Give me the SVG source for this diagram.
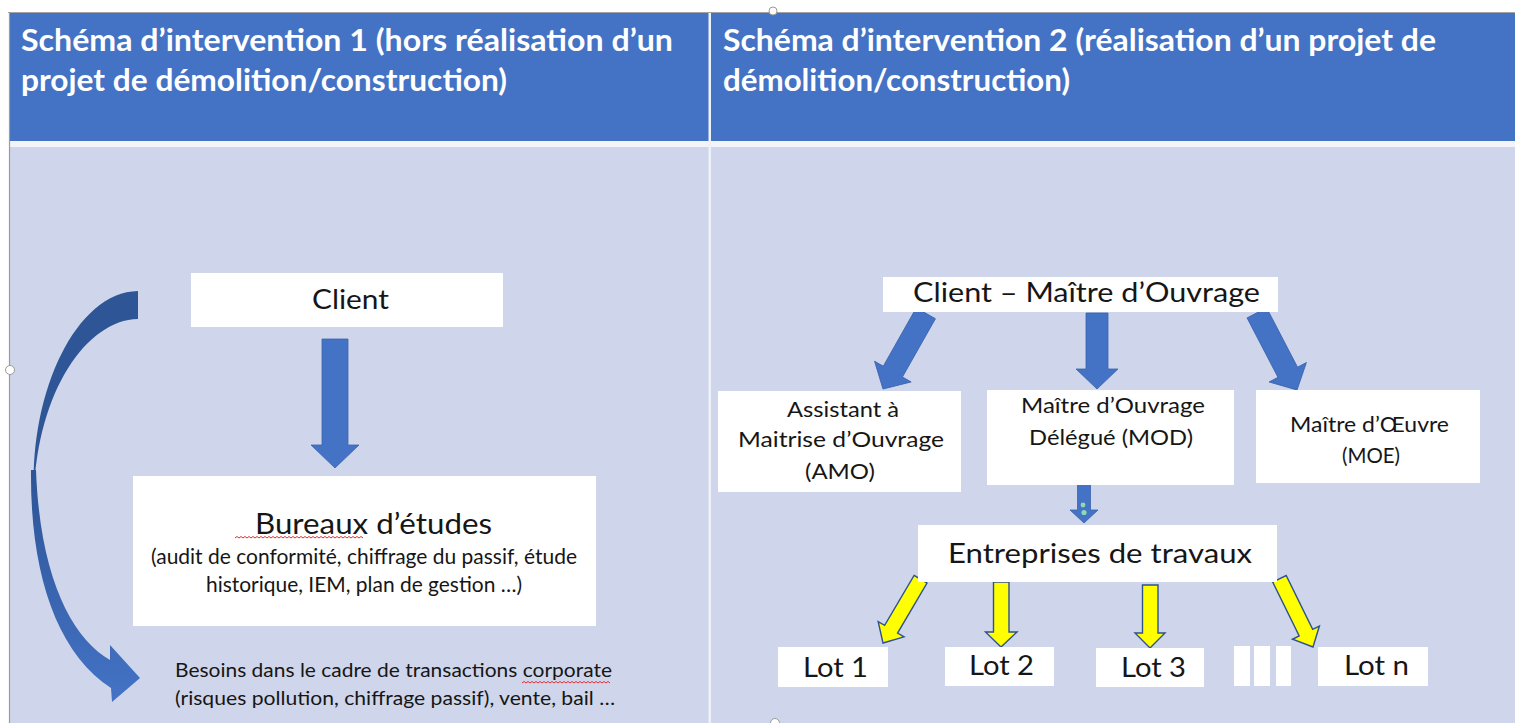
<svg xmlns="http://www.w3.org/2000/svg" width="1515" height="723" viewBox="0 0 1515 723">
  <style>
    .hdr { fill: #4472C4; }
    .body { fill: #CFD5EA; }
    .box { fill: #FFFFFF; }
    .htxt { font-family: Lato, "Open Sans", sans-serif; font-weight: bold; font-size: 31px; fill: #FFFFFF; }
    .txt { font-family: Lato, "Open Sans", sans-serif; fill: #161616; }
    .blue { fill: #4472C4; stroke: #3A64B0; stroke-width: 0.8; }
    .yellow { fill: #FFFF00; stroke: #2F528F; stroke-width: 1.4; stroke-linejoin: miter; }
    .squiggle { fill: none; stroke: #E03030; stroke-width: 1; }
    .handle { fill: #FFFFFF; stroke: #9A9A9A; stroke-width: 1; }
  </style>
  <defs>
    <linearGradient id="curveGrad" x1="0" y1="0" x2="0" y2="1">
      <stop offset="0" stop-color="#2D5495"/>
      <stop offset="1" stop-color="#4473C6"/>
    </linearGradient>
    <!-- block arrows drawn pointing down with the tip at the origin -->
    <path id="arrowBig" d="M -11,-87 H 11 V -20 H 21 L 0,0 L -21,-20 H -11 Z"/>
    <path id="arrowSmallA" d="M -7.5,-74 H 7.5 V -16 H 15 L 0,0 L -15,-16 H -7.5 Z"/>
    <path id="arrowSmallB" d="M -7.5,-76 H 7.5 V -16 H 15 L 0,0 L -15,-16 H -7.5 Z"/>
  </defs>

  <!-- page and table frame -->
  <rect x="0" y="0" width="1515" height="723" fill="#FFFFFF"/>
  <rect class="hdr" x="10" y="13" width="1505" height="128"/>
  <rect x="10" y="141" width="1505" height="6" fill="#F2F4FA"/>
  <rect class="body" x="10" y="147" width="1505" height="576"/>
  <rect x="708.5" y="13" width="2.5" height="710" fill="#EEF1F8"/>
  <line x1="8" y1="12.5" x2="1515" y2="12.5" stroke="#A3A3A3" stroke-width="1.2"/>
  <line x1="9.5" y1="12" x2="9.5" y2="723" stroke="#9C9C9C" stroke-width="1.2"/>
  <circle class="handle" cx="773" cy="11" r="4"/>
  <circle class="handle" cx="10" cy="370" r="4.5"/>
  <circle class="handle" cx="775" cy="723" r="4.5"/>

  <!-- column headers -->
  <g id="header-1">
    <text class="htxt" x="21" y="51" textLength="652" lengthAdjust="spacingAndGlyphs">Schéma d’intervention 1 (hors réalisation d’un</text>
    <text class="htxt" x="21" y="91" textLength="486" lengthAdjust="spacingAndGlyphs">projet de démolition/construction)</text>
  </g>
  <g id="header-2">
    <text class="htxt" x="723" y="51" textLength="713" lengthAdjust="spacingAndGlyphs">Schéma d’intervention 2 (réalisation d’un projet de</text>
    <text class="htxt" x="723" y="91" textLength="347" lengthAdjust="spacingAndGlyphs">démolition/construction)</text>
  </g>

  <!-- connectors -->
  <g id="connectors">
    <!-- curved arrow: back face then front face -->
    <path d="M 138,291 L 138,319 C 86,320 38,392 34,492 C 30,392 76,292 138,291 Z" fill="#2E5596"/>
    <path d="M 31,470 C 30,572 56,652 111,688 L 112,702 L 140,678 L 110,645 L 110,660 C 72,638 40,578 36,470 Z" fill="url(#curveGrad)"/>

    <path class="blue" d="M 322,339 H 348 V 445 H 359 L 335,468 L 311,445 H 322 Z"/>

    <use href="#arrowBig" class="blue" transform="translate(883,389) rotate(29.5)"/>
    <path class="blue" d="M 1086,313 H 1108 V 369 H 1118 L 1097,389 L 1076,369 H 1086 Z"/>
    <use href="#arrowBig" class="blue" transform="translate(1297,390) rotate(-27.5)"/>

    <path class="blue" d="M 1077.5,484 H 1090.5 V 510 H 1098 L 1084,523 L 1070,510 H 1077.5 Z"/>
    <circle cx="1083" cy="505" r="2.4" fill="#8FD8B2"/>
    <circle cx="1084" cy="512.5" r="2.6" fill="#8FD8B2"/>

    <use href="#arrowSmallA" class="yellow" transform="translate(883,643) rotate(30.5)"/>
    <path class="yellow" d="M 993.5,582 H 1009 V 632 H 1017 L 1001,647 L 985.5,632 H 993.5 Z"/>
    <path class="yellow" d="M 1142.5,585 H 1158 V 633 H 1165 L 1150,648 L 1135,633 H 1142.5 Z"/>
    <use href="#arrowSmallB" class="yellow" transform="translate(1313,647) rotate(-26.2)"/>
  </g>

  <!-- left scheme -->
  <g id="client">
    <rect class="box" x="191" y="273" width="312" height="54"/>
    <text class="txt" x="312" y="309" font-size="26" textLength="77" lengthAdjust="spacingAndGlyphs">Client</text>
  </g>
  <g id="bureaux-etudes">
    <rect class="box" x="133" y="476" width="463" height="150"/>
    <text class="txt" x="255" y="534" font-size="28" textLength="237" lengthAdjust="spacingAndGlyphs">Bureaux d’études</text>
    <path class="squiggle" d="M 235,538 l 2,-1.5 l 2,1.5 l 2,-1.5 l 2,1.5 l 2,-1.5 l 2,1.5 l 2,-1.5 l 2,1.5 l 2,-1.5 l 2,1.5 l 2,-1.5 l 2,1.5 l 2,-1.5 l 2,1.5 l 2,-1.5 l 2,1.5 l 2,-1.5 l 2,1.5 l 2,-1.5 l 2,1.5 l 2,-1.5 l 2,1.5 l 2,-1.5 l 2,1.5 l 2,-1.5 l 2,1.5 l 2,-1.5 l 2,1.5 l 2,-1.5 l 2,1.5 l 2,-1.5 l 2,1.5 l 2,-1.5 l 2,1.5 l 2,-1.5 l 2,1.5 l 2,-1.5 l 2,1.5 l 2,-1.5 l 2,1.5 l 2,-1.5 l 2,1.5 l 2,-1.5 l 2,1.5 l 2,-1.5 l 2,1.5 l 2,-1.5 l 2,1.5 l 2,-1.5 l 2,1.5 l 2,-1.5 l 2,1.5 l 2,-1.5 l 2,1.5 l 2,-1.5 l 2,1.5 l 2,-1.5 l 2,1.5 l 2,-1.5 l 2,1.5 l 2,-1.5 l 2,1.5 l 2,-1.5 l 2,1.5"/>
    <text class="txt" x="151" y="564" font-size="20.5" textLength="426" lengthAdjust="spacingAndGlyphs">(audit de conformité, chiffrage du passif, étude</text>
    <text class="txt" x="206" y="592" font-size="20.5" textLength="316" lengthAdjust="spacingAndGlyphs">historique, IEM, plan de gestion …)</text>
  </g>
  <g id="besoins">
    <text class="txt" x="175" y="677" font-size="18.5" textLength="437" lengthAdjust="spacingAndGlyphs">Besoins dans le cadre de transactions corporate</text>
    <path class="squiggle" d="M 522,683 l 2,-1.5 l 2,1.5 l 2,-1.5 l 2,1.5 l 2,-1.5 l 2,1.5 l 2,-1.5 l 2,1.5 l 2,-1.5 l 2,1.5 l 2,-1.5 l 2,1.5 l 2,-1.5 l 2,1.5 l 2,-1.5 l 2,1.5 l 2,-1.5 l 2,1.5 l 2,-1.5 l 2,1.5 l 2,-1.5 l 2,1.5 l 2,-1.5 l 2,1.5 l 2,-1.5 l 2,1.5 l 2,-1.5 l 2,1.5 l 2,-1.5 l 2,1.5 l 2,-1.5 l 2,1.5 l 2,-1.5 l 2,1.5 l 2,-1.5 l 2,1.5 l 2,-1.5 l 2,1.5 l 2,-1.5 l 2,1.5 l 2,-1.5 l 2,1.5 l 2,-1.5 l 2,1.5"/>
    <text class="txt" x="175" y="705" font-size="18.5" textLength="440" lengthAdjust="spacingAndGlyphs">(risques pollution, chiffrage passif), vente, bail …</text>
  </g>

  <!-- right scheme -->
  <g id="client-maitre-ouvrage">
    <rect class="box" x="883" y="277" width="395" height="35"/>
    <text class="txt" x="913" y="302" font-size="27" textLength="347" lengthAdjust="spacingAndGlyphs">Client – Maître d’Ouvrage</text>
  </g>
  <g id="amo">
    <rect class="box" x="718" y="391" width="243" height="101"/>
    <text class="txt" x="787" y="417" font-size="21" textLength="112" lengthAdjust="spacingAndGlyphs">Assistant à</text>
    <text class="txt" x="738" y="447" font-size="21" textLength="206" lengthAdjust="spacingAndGlyphs">Maitrise d’Ouvrage</text>
    <text class="txt" x="805" y="479" font-size="21" textLength="70" lengthAdjust="spacingAndGlyphs">(AMO)</text>
  </g>
  <g id="mod">
    <rect class="box" x="987" y="390" width="247" height="95"/>
    <text class="txt" x="1021" y="413" font-size="21" textLength="184" lengthAdjust="spacingAndGlyphs">Maître d’Ouvrage</text>
    <text class="txt" x="1029" y="445" font-size="21" textLength="164" lengthAdjust="spacingAndGlyphs">Délégué (MOD)</text>
  </g>
  <g id="moe">
    <rect class="box" x="1256" y="390" width="224" height="93"/>
    <text class="txt" x="1290" y="432" font-size="21" textLength="159" lengthAdjust="spacingAndGlyphs">Maître d’Œuvre</text>
    <text class="txt" x="1342" y="463" font-size="21" textLength="58" lengthAdjust="spacingAndGlyphs">(MOE)</text>
  </g>
  <g id="entreprises">
    <rect class="box" x="918" y="525" width="359" height="57"/>
    <text class="txt" x="948" y="563" font-size="27" textLength="304" lengthAdjust="spacingAndGlyphs">Entreprises de travaux</text>
  </g>
  <g id="lot-1">
    <rect class="box" x="778" y="647" width="110" height="40"/>
    <text class="txt" x="803" y="677" font-size="27" textLength="65" lengthAdjust="spacingAndGlyphs">Lot 1</text>
  </g>
  <g id="lot-2">
    <rect class="box" x="945" y="647" width="109" height="39"/>
    <text class="txt" x="969" y="675" font-size="27" textLength="65" lengthAdjust="spacingAndGlyphs">Lot 2</text>
  </g>
  <g id="lot-3">
    <rect class="box" x="1096" y="648" width="108" height="39"/>
    <text class="txt" x="1121" y="677" font-size="27" textLength="65" lengthAdjust="spacingAndGlyphs">Lot 3</text>
  </g>
  <g id="lot-gap">
    <rect class="box" x="1234" y="646" width="16" height="40"/>
    <rect class="box" x="1254" y="646" width="16" height="40"/>
    <rect class="box" x="1276" y="646" width="15" height="40"/>
  </g>
  <g id="lot-n">
    <rect class="box" x="1318" y="647" width="110" height="39"/>
    <text class="txt" x="1344" y="675" font-size="27" textLength="65" lengthAdjust="spacingAndGlyphs">Lot n</text>
  </g>
</svg>
